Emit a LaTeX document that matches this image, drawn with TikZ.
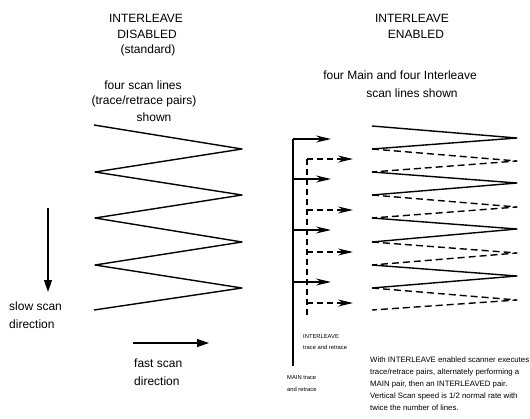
\documentclass[tikz,border=0pt]{standalone}
\usepackage{fontspec}
\setmainfont{Liberation Sans}
\usetikzlibrary{arrows.meta}
\begin{document}
\begin{tikzpicture}[x=1pt,y=-1pt,
  lbl/.style={inner sep=0pt,font=\fontsize{12}{14}\selectfont},
  small/.style={inner sep=0pt,anchor=west,font=\fontsize{5.8}{7}\selectfont},
  para/.style={inner sep=0pt,anchor=west,font=\fontsize{7.8}{9}\selectfont},
  zig/.style={line width=1.4pt,line join=round},
  dzig/.style={line width=1.4pt,line join=round,dash pattern=on 7pt off 4pt},
  mainline/.style={line width=1.6pt},
  ilvline/.style={line width=1.6pt,dash pattern=on 6pt off 4pt},
  marrow/.style={-{Stealth[length=15pt,width=7pt,inset=5pt]}},
  bigarrow/.style={line width=1.3pt,-{Triangle[length=12pt,width=8pt]}}]
\useasboundingbox (0,0) rectangle (530,418);

% headings
\node[lbl] (h1) at (146,18) {INTERLEAVE};
\node[lbl] (h2) at (147,34) {DISABLED};
\node[lbl] (h3) at (148,50) {(standard)};
\node[lbl] (h4) at (143,85) {four scan lines};
\node[lbl] (h5) at (144,101) {(trace/retrace pairs)};
\node[lbl] (h6) at (154,117) {shown};

\node[lbl] (e1) at (412,18) {INTERLEAVE};
\node[lbl] (e2) at (416,34) {ENABLED};
\node[lbl] (e3) at (400,75) {four Main and four Interleave};
\node[lbl] (e4) at (412,93) {scan lines shown};

% left zigzag
\coordinate (a0) at (94,125);
\coordinate (a1) at (242,149);
\coordinate (a2) at (95,172);
\coordinate (a3) at (242,195);
\coordinate (a4) at (95,218);
\coordinate (a5) at (242,242);
\coordinate (a6) at (95,265);
\coordinate (a7) at (242,288);
\coordinate (a8) at (94,310);
\draw[zig] (a0) -- (a1) -- (a2) -- (a3) -- (a4) -- (a5) -- (a6) -- (a7) -- (a8);

% slow / fast scan arrows
\coordinate (s0) at (48,208);
\coordinate (s1) at (48,292);
\draw[bigarrow] (s0) -- (s1);
\node[lbl,anchor=west] (sl1) at (9,306) {slow scan};
\node[lbl,anchor=west] (sl2) at (9,324) {direction};
\coordinate (f0) at (133,343);
\coordinate (f1) at (209,343);
\draw[bigarrow] (f0) -- (f1);
\node[lbl,anchor=west] (fl1) at (134,363) {fast scan};
\node[lbl,anchor=west] (fl2) at (134,381) {direction};

% right zigzag (main solid, interleave dashed)
\coordinate (b0) at (372,126);
\coordinate (c0) at (517,138);
\coordinate (b1) at (372,149);
\coordinate (d0) at (517,161);
\coordinate (b2) at (372,172);
\coordinate (c1) at (517,183);
\coordinate (b3) at (372,195);
\coordinate (d1) at (517,207);
\coordinate (b4) at (372,218);
\coordinate (c2) at (517,229);
\coordinate (b5) at (372,242);
\coordinate (d2) at (517,253);
\coordinate (b6) at (372,265);
\coordinate (c3) at (517,276);
\coordinate (b7) at (372,288);
\coordinate (d3) at (517,300);
\coordinate (b8) at (372,310);
\draw[zig] (b0) -- (c0) -- (b1);
\draw[zig] (b2) -- (c1) -- (b3);
\draw[zig] (b4) -- (c2) -- (b5);
\draw[zig] (b6) -- (c3) -- (b7);
\draw[dzig] (b1) -- (d0) -- (b2);
\draw[dzig] (b3) -- (d1) -- (b4);
\draw[dzig] (b5) -- (d2) -- (b6);
\draw[dzig] (b7) -- (d3) -- (b8);

% middle: main trace and interleave trace markers
\coordinate (m0) at (293,139);
\coordinate (m1) at (293,179);
\coordinate (m2) at (293,230);
\coordinate (m3) at (293,282);
\coordinate (mend) at (293,366);
\coordinate (mt0) at (331,139);
\coordinate (mt1) at (331,179);
\coordinate (mt2) at (331,230);
\coordinate (mt3) at (331,282);
\coordinate (i0) at (307,159);
\coordinate (i1) at (307,210);
\coordinate (i2) at (307,252);
\coordinate (i3) at (307,303);
\coordinate (iend) at (307,318);
\coordinate (it0) at (353,159);
\coordinate (it1) at (353,210);
\coordinate (it2) at (353,252);
\coordinate (it3) at (353,303);
\draw[mainline] (m0) -- (mend);
\draw[ilvline] (i0) -- (iend);
\foreach \k in {0,1,2,3}{
  \draw[mainline,marrow] (m\k) -- (mt\k);
  \draw[ilvline,marrow] (i\k) -- (it\k);
}

\node[small] (n1) at (303,336) {INTERLEAVE};
\node[small] (n2) at (303,347) {trace and retrace};
\node[small] (n3) at (287,378) {MAIN trace};
\node[small] (n4) at (287,389) {and retrace};

\node[para] (p1) at (370,360) {With INTERLEAVE enabled scanner executes};
\node[para] (p2) at (370,372) {trace/retrace pairs, alternately performing a};
\node[para] (p3) at (370,384) {MAIN pair, then an INTERLEAVED pair.};
\node[para] (p4) at (370,396) {Vertical Scan speed is 1/2 normal rate with};
\node[para] (p5) at (370,408) {twice the number of lines.};
\end{tikzpicture}
\end{document}
